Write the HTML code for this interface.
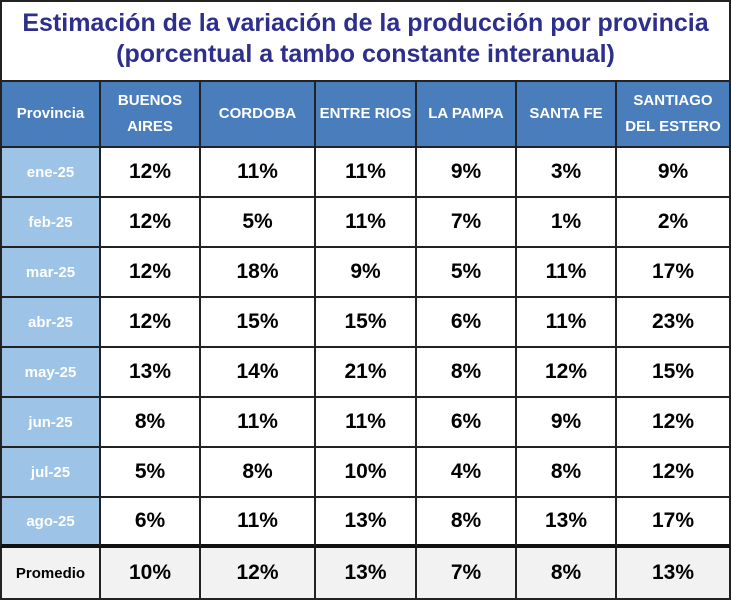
<!DOCTYPE html>
<html><head><meta charset="utf-8"><style>
body{margin:0;width:731px;height:600px;overflow:hidden;background:#fff;font-family:"Liberation Sans",sans-serif}
#wrap{position:relative;width:731px;height:600px}
.c{position:absolute;box-sizing:border-box;display:flex;align-items:center;justify-content:center;text-align:center;font-weight:bold;border-right:2px solid #222;border-bottom:2px solid #222}
.t{position:absolute;left:0;top:0;width:731px;height:80px;box-sizing:border-box;border:2px solid #222;border-bottom:none;color:#2e2e8c;font-weight:bold;font-size:25px;line-height:31px;text-align:center;padding-top:6px}
.h{background:#4a7dbb;color:#fff;font-size:15px;line-height:26px}
.r{background:#9dc3e6;color:#fff;font-size:15px}
.v{background:#fff;color:#000;font-size:21px}
.p{background:#f2f2f2;color:#000;font-size:21px}
.pl{font-size:15px}
</style></head><body><div id="wrap">
<div class="t">Estimación de la variación de la producción por provincia<br>(porcentual a tambo constante interanual)</div>
</div>
<script>
const columns=["Provincia","BUENOS<br>AIRES","CORDOBA","ENTRE RIOS","LA PAMPA","SANTA FE","SANTIAGO<br>DEL ESTERO"];
const months=["ene-25","feb-25","mar-25","abr-25","may-25","jun-25","jul-25","ago-25"];
const buenosAires=[12,12,12,12,13,8,5,6];
const cordoba=[11,5,18,15,14,11,8,11];
const entreRios=[11,11,9,15,21,11,10,13];
const laPampa=[9,7,5,6,8,6,4,8];
const santaFe=[3,1,11,11,12,9,8,13];
const santiago=[9,2,17,23,15,12,12,17];
const promedio=[10,12,13,7,8,13];
const series=[buenosAires,cordoba,entreRios,laPampa,santaFe,santiago];
const xs=[0,101,201,316,417,517,617,731];
const wrap=document.getElementById('wrap');
function cell(cls,x0,x1,y0,y1,html,name){
  const d=document.createElement('div');
  d.className='c '+cls;
  
  
  d.style.left=x0+'px';d.style.top=y0+'px';d.style.width=(x1-x0)+'px';d.style.height=(y1-y0)+'px';
  if(x0===0)d.style.borderLeft='2px solid #222';
  d.innerHTML=html;wrap.appendChild(d);return d;
}
for(let i=0;i<columns.length;i++){
  const d=cell('h',xs[i],xs[i+1],80,148,columns[i],'column-header');
  d.style.borderTop='2px solid #222';
}
for(let r=0;r<months.length;r++){
  const y0=148+r*50,y1=y0+50;
  const l=cell('r',0,101,y0,y1,months[r],'row-label');
  if(r===months.length-1)l.style.borderBottom='4px solid #111';
  for(let c=0;c<series.length;c++){
    const d=cell('v',xs[c+1],xs[c+2],y0,y1,series[c][r]+'%','value-cell');
    if(r===months.length-1)d.style.borderBottom='4px solid #111';
  }
}
cell('p pl',0,101,548,600,'Promedio','average-label');
for(let c=0;c<promedio.length;c++){
  cell('p',xs[c+1],xs[c+2],548,600,promedio[c]+'%','average-cell');
}
</script></body></html>
